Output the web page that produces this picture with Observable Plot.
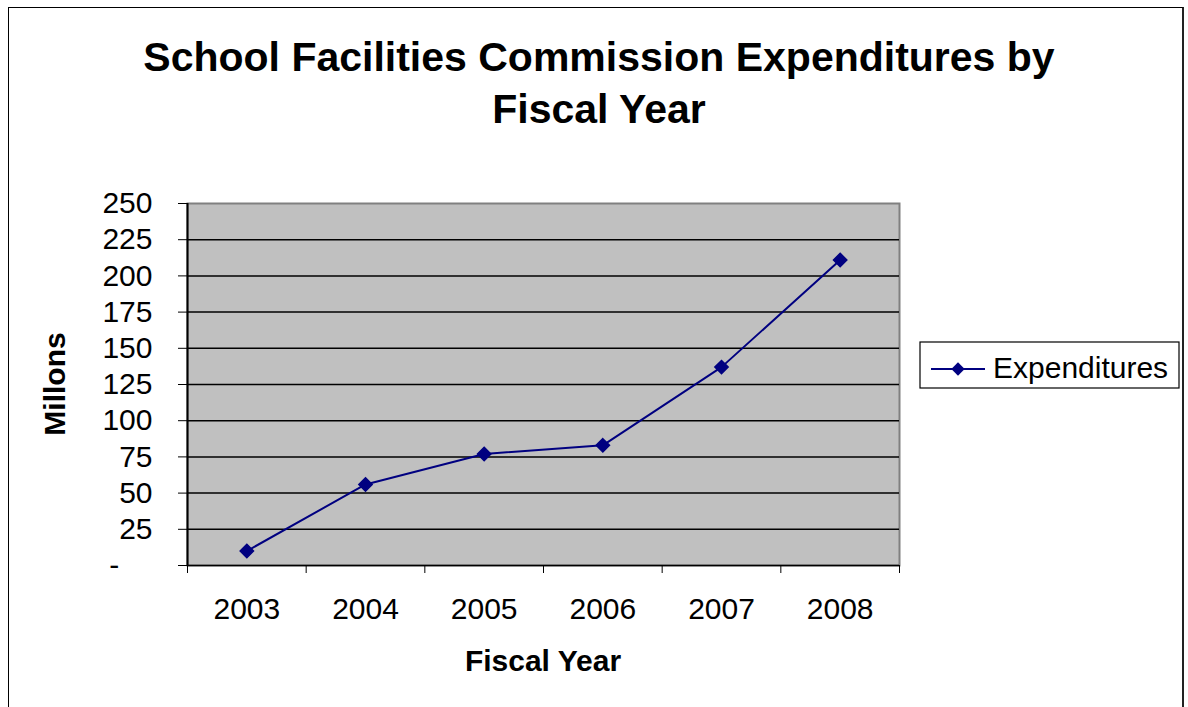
<!DOCTYPE html>
<html>
<head>
<meta charset="utf-8">
<script src="https://cdn.jsdelivr.net/npm/d3@7"></script>
<script src="https://cdn.jsdelivr.net/npm/@observablehq/plot@0.6"></script>
<style>
  html, body { margin: 0; padding: 0; background: #fff; }
  #wrap { position: relative; width: 1188px; height: 707px; overflow: hidden; font-family: "Liberation Sans", Arial, sans-serif; }
  #border { position: absolute; left: 8px; top: 7px; width: 1173px; height: 720px; border: 1.5px solid #000; border-right: 2.5px solid #222; }
  #chart { position: absolute; left: 0; top: 0; }
  #overlay { position: absolute; left: 0; top: 0; pointer-events: none; }
</style>
</head>
<body>
<div id="wrap">
  <div id="border"></div>
  <div id="chart"></div>
  <svg id="overlay" width="1188" height="707" font-family="Liberation Sans, Arial, sans-serif">
    <text x="599" y="71" text-anchor="middle" font-size="41" font-weight="bold">School Facilities Commission Expenditures by</text>
    <text x="599" y="123" text-anchor="middle" font-size="41" font-weight="bold">Fiscal Year</text>
    <text x="543" y="671" text-anchor="middle" font-size="30" font-weight="bold">Fiscal Year</text>
    <text transform="translate(65,384) rotate(-90)" text-anchor="middle" font-size="30" font-weight="bold">Millons</text>
    <g id="legend"></g>
  </svg>
</div>
<script>
// ---- data ----
const years = [2003, 2004, 2005, 2006, 2007, 2008];
const expenditures = [10, 56, 77, 83, 137, 211];
const yTicks = [0, 25, 50, 75, 100, 125, 150, 175, 200, 225, 250];
const seriesName = "Expenditures";

const lineColor = "#000080";
const data = years.map((y, i) => ({year: y, value: expenditures[i]}));
const xDomain = [years[0] - 0.5, years[years.length - 1] + 0.5];
const boundaries = [...years.map(y => y - 0.5), years[years.length - 1] + 0.5];

const chart = Plot.plot({
  width: 1188,
  height: 707,
  marginLeft: 187,
  marginRight: 289,
  marginTop: 203,
  marginBottom: 142,
  style: {fontFamily: "Liberation Sans, Arial, sans-serif", fontSize: "30px", color: "#000", background: "transparent", overflow: "visible"},
  x: {type: "linear", domain: xDomain},
  y: {domain: [yTicks[0], yTicks[yTicks.length - 1]]},
  marks: [
    Plot.frame({fill: "#c0c0c0", stroke: "#808080", strokeWidth: 2}),
    Plot.gridY(yTicks.slice(1, -1), {stroke: "#000", strokeOpacity: 1, strokeWidth: 1.5}),
    Plot.ruleX([xDomain[0]], {stroke: "#000", strokeWidth: 2}),
    Plot.ruleY([0], {stroke: "#000", strokeWidth: 1.5}),
    Plot.axisY(yTicks, {tickSize: 9, tickPadding: 26, label: null, fontSize: 30,
      tickFormat: d => d === 0 ? "-\u2007\u2007" : String(d)}),
    Plot.axisX(boundaries, {tickSize: 8, label: null, tickFormat: () => ""}),
    Plot.axisX(years, {tickSize: 0, tickPadding: 32, label: null, fontSize: 30, tickFormat: d => String(d)}),
    Plot.line(data, {x: "year", y: "value", stroke: lineColor, strokeWidth: 2}),
    Plot.dot(data, {x: "year", y: "value", symbol: "diamond2", r: 6, fill: lineColor, stroke: lineColor})
  ]
});
document.getElementById("chart").appendChild(chart);

// ---- legend ----
const lg = d3.select("#legend");
lg.append("rect").attr("x", 920).attr("y", 342).attr("width", 259).attr("height", 46)
  .attr("fill", "#fff").attr("stroke", "#000").attr("stroke-width", 1.2);
lg.append("line").attr("x1", 931).attr("x2", 985).attr("y1", 369).attr("y2", 369)
  .attr("stroke", lineColor).attr("stroke-width", 2);
lg.append("path").attr("d", d3.symbol(d3.symbolDiamond2, Math.PI * 36)())
  .attr("transform", "translate(958,369)").attr("fill", lineColor);
lg.append("text").attr("x", 993).attr("y", 378).attr("font-size", 30).text(seriesName);
</script>
</body>
</html>
